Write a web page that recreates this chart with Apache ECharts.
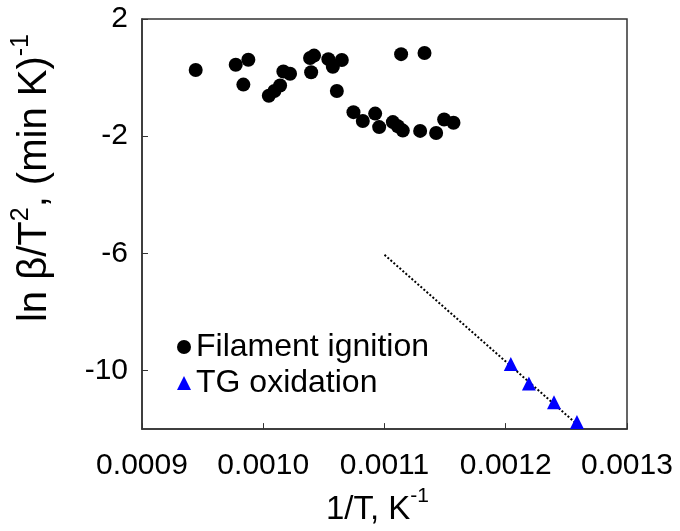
<!DOCTYPE html>
<html>
<head>
<meta charset="utf-8">
<script src="https://cdn.jsdelivr.net/npm/echarts@6/dist/echarts.min.js"></script>
<style>html,body{margin:0;padding:0;background:#fff}#c{width:680px;height:531px}</style>
</head>
<body>
<div id="c"></div>
<script>
// Filament ignition: [1/T, ln(beta/T^2)]
const filamentX = [0.0009443,0.0009773,0.0009877,0.0009836,0.0010046,0.0010092,0.0010139,0.0010166,0.0010221,0.0010395,0.0010386,0.0010419,0.0010537,0.0010574,0.0010648,0.0010607,0.0011137,0.0011330,0.0010744,0.0010821,0.0010923,0.0010956,0.0011069,0.0011110,0.0011151,0.0011294,0.0011426,0.0011492,0.0011569];
const filamentY = [0.26,0.44,0.61,-0.24,-0.62,-0.46,-0.27,0.21,0.13,0.18,0.67,0.75,0.63,0.37,0.60,-0.46,0.80,0.84,-1.18,-1.48,-1.23,-1.69,-1.52,-1.66,-1.81,-1.82,-1.89,-1.43,-1.54];
// TG oxidation
const tgX = [0.0012042,0.0012191,0.0012398,0.0012587];
const tgY = [-9.78,-10.44,-11.08,-11.76];
// dotted fit line end points
const fitX = [0.0011,0.00126];
const fitY = [-6.05,-11.88];
const xTicks = [0.0009,0.0010,0.0011,0.0012,0.0013];
const yTicks = [-10,-6,-2,2];

const zip = (a,b)=>a.map((v,i)=>[v,b[i]]);
const FONT = 'Liberation Sans, Arial, sans-serif';
const chart = echarts.init(document.getElementById('c'));
chart.setOption({
  animation:false,
  backgroundColor:'#fff',
  grid:{left:142,top:19,right:53,bottom:100,show:true,borderColor:'#333',borderWidth:1.5,containLabel:false},
  legend:{
    orient:'vertical', left:172, top:326, itemGap:4, itemWidth:14, itemHeight:14,
    textStyle:{fontFamily:FONT,fontSize:32,color:'#000'},
    data:[{name:'Filament ignition',icon:'circle'},{name:'TG oxidation',icon:'triangle'}]
  },
  xAxis:{
    type:'value', min:0.0009, max:0.0013, interval:0.0001,
    axisLine:{show:true,onZero:false,lineStyle:{color:'#333',width:1.5}},
    axisTick:{show:true,inside:true,length:6,lineStyle:{color:'#333'}},
    splitLine:{show:false},
    axisLabel:{fontFamily:FONT,fontSize:30,color:'#000',margin:22,formatter:v=>v.toFixed(4),customValues:xTicks},
    name:'{a|1/T, K}{s|-1}', nameLocation:'middle', nameGap:56,
    nameTextStyle:{padding:[0,14,0,0],rich:{a:{fontFamily:FONT,fontSize:33,color:'#000',verticalAlign:'bottom',lineHeight:40},s:{fontFamily:FONT,fontSize:21,color:'#000',verticalAlign:'top',lineHeight:40}}}
  },
  yAxis:{
    type:'value', min:-12, max:2,
    axisLine:{show:true,onZero:false,lineStyle:{color:'#333',width:1.5}},
    axisTick:{show:true,inside:true,length:6,lineStyle:{color:'#333'},customValues:yTicks},
    splitLine:{show:false},
    axisLabel:{fontFamily:FONT,fontSize:30,color:'#000',margin:14,customValues:yTicks},
    name:'{a|ln β/T}{s|2}{a|, (min K)}{s|-1}', nameLocation:'middle', nameGap:87, nameRotate:90,
    nameTextStyle:{padding:[0,0,0,92],rich:{a:{fontFamily:FONT,fontSize:40,color:'#000',verticalAlign:'bottom',lineHeight:46},s:{fontFamily:FONT,fontSize:25,color:'#000',verticalAlign:'top',lineHeight:46}}}
  },
  series:[
    {name:'fit',type:'line',data:zip(fitX,fitY),symbol:'none',lineStyle:{color:'#000',width:2,type:'dotted'},silent:true,z:1},
    {name:'Filament ignition',type:'scatter',data:zip(filamentX,filamentY),symbol:'circle',symbolSize:14,itemStyle:{color:'#000',opacity:1},z:3},
    {name:'TG oxidation',type:'scatter',data:zip(tgX,tgY),symbol:'triangle',symbolSize:14,itemStyle:{color:'#0000ff',opacity:1},z:3}
  ]
});
</script>
</body>
</html>
